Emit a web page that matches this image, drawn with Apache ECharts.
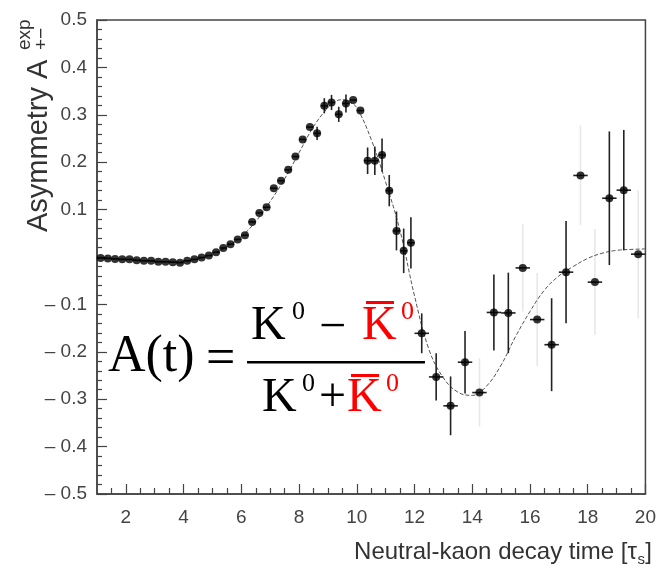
<!DOCTYPE html>
<html>
<head>
<meta charset="utf-8">
<script src="https://cdn.jsdelivr.net/npm/echarts@6/dist/echarts.min.js"></script>
<style>
  html, body { margin: 0; padding: 0; background: #fff; }
  #chart { width: 659px; height: 569px; }
</style>
</head>
<body>
<div id="chart"></div>
<script>
// Bin centres of the measured asymmetry, in units of tau_S
const binT = [
  1.125, 1.375, 1.625, 1.875, 2.125, 2.375, 2.625, 2.875, 3.125, 3.375, 3.625, 3.875,
  4.125, 4.375, 4.625, 4.875, 5.125, 5.375, 5.625, 5.875, 6.125, 6.375, 6.625, 6.875,
  7.125, 7.375, 7.625, 7.875, 8.125, 8.375, 8.625, 8.875, 9.125, 9.375, 9.625, 9.875,
  10.125, 10.375, 10.625, 10.875, 11.125, 11.375, 11.625, 11.875,
  12.25, 12.75, 13.25, 13.75, 14.25, 14.75, 15.25, 15.75, 16.25, 16.75, 17.25, 17.75,
  18.25, 18.75, 19.25, 19.75
];
// Measured asymmetry in each bin
const asym = [
  -0.002, -0.003, -0.004, -0.005, -0.005, -0.007, -0.008, -0.008, -0.010, -0.010, -0.011, -0.012,
  -0.008, -0.005, -0.001, 0.003, 0.010, 0.019, 0.027, 0.037, 0.046, 0.074, 0.093, 0.105,
  0.145, 0.161, 0.184, 0.212, 0.248, 0.274, 0.261, 0.319, 0.326, 0.301, 0.324, 0.331,
  0.309, 0.203, 0.203, 0.215, 0.140, 0.055, 0.013, 0.030,
  -0.161, -0.253, -0.314, -0.222, -0.286, -0.117, -0.118, -0.023, -0.132, -0.185, -0.032, 0.172,
  -0.053, 0.124, 0.141, 0.006
];
// Statistical error of each bin (0 = hidden by the marker)
const asymErr = [
  0, 0, 0, 0, 0, 0, 0, 0, 0, 0, 0, 0,
  0, 0, 0, 0, 0, 0, 0, 0, 0, 0, 0, 0,
  0, 0, 0, 0, 0, 0, 0.014, 0.016, 0.016, 0.016, 0.019, 0,
  0, 0.028, 0.030, 0.035, 0.033, 0.041, 0.047, 0.054,
  0.042, 0.050, 0.062, 0.066, 0.072, 0.080, 0.085, 0.092, 0.098, 0.098, 0.108, 0.105,
  0.112, 0.141, 0.127, 0.135
];
// Bins whose error bar is printed in light grey
const faintErrT = [14.25, 15.75, 16.25, 17.75, 18.25, 19.75];

// Fitted asymmetry curve
const fitT = [
  1.0, 1.5, 2.0, 2.5, 3.0, 3.5, 4.0, 4.5, 5.0, 5.5, 6.0, 6.5, 7.0, 7.5, 8.0, 8.5,
  9.0, 9.25, 9.5, 9.75, 10.0, 10.5, 11.0, 11.5, 12.0, 12.5, 13.0, 13.5, 14.0, 14.5,
  15.0, 15.5, 16.0, 16.5, 17.0, 17.5, 18.0, 18.5, 19.0, 19.5, 20.0
];
const fitV = [
  -0.002, -0.003, -0.005, -0.007, -0.009, -0.010, -0.009, -0.004, 0.006, 0.022, 0.043, 0.075,
  0.117, 0.165, 0.220, 0.275, 0.315, 0.328, 0.332, 0.327, 0.315, 0.248, 0.158, 0.055,
  -0.082, -0.195, -0.255, -0.285, -0.292, -0.272, -0.228, -0.168, -0.115, -0.070, -0.040,
  -0.020, -0.003, 0.008, 0.014, 0.016, 0.017
];

// Axis ticks
const xMajorTicks = [2, 4, 6, 8, 10, 12, 14, 16, 18, 20];
const xMinorTicks = [1.5, 2.5, 3, 3.5, 4.5, 5, 5.5, 6.5, 7, 7.5, 8.5, 9, 9.5, 10.5, 11, 11.5,
  12.5, 13, 13.5, 14.5, 15, 15.5, 16.5, 17, 17.5, 18.5, 19, 19.5];

const AXIS_COLOR = '#444';
const SANS = '"Liberation Sans", Arial, Helvetica, sans-serif';
const SERIF = '"Liberation Serif", "Times New Roman", serif';

const points = binT.map((t, i) => [t, asym[i]]);
const darkErr = binT.map((t, i) => [t, asym[i], faintErrT.includes(t) ? 0 : asymErr[i], t < 12 ? 0.125 : 0.25]);
const lightErr = binT.map((t, i) => [t, asym[i], faintErrT.includes(t) ? asymErr[i] : 0, 0]);
const fitLine = fitT.map((t, i) => [t, fitV[i]]);

function errorBars(color) {
  return function (params, api) {
    const t = api.value(0), v = api.value(1), e = api.value(2), hw = api.value(3);
    const children = [];
    if (e > 0) {
      const a = api.coord([t, v + e]), b = api.coord([t, v - e]);
      children.push({ type: 'line', shape: { x1: a[0], y1: a[1], x2: b[0], y2: b[1] },
        style: { stroke: color, lineWidth: 1.6 } });
    }
    if (hw > 0) {
      const a = api.coord([t - hw, v]), b = api.coord([t + hw, v]);
      children.push({ type: 'line', shape: { x1: a[0], y1: a[1], x2: b[0], y2: b[1] },
        style: { stroke: color, lineWidth: 1.6 } });
    }
    return { type: 'group', children };
  };
}

function txt(x, y, text, size, color, family, align) {
  return { type: 'text', x, y, z: 10,
    style: { text, fill: color, font: `${size}px ${family}`, align: align || 'left', verticalAlign: 'middle' } };
}
function bar(x1, x2, y, h, color) {
  return { type: 'rect', z: 10, shape: { x: x1, y, width: x2 - x1, height: h }, style: { fill: color } };
}

const chart = echarts.init(document.getElementById('chart'), null, { renderer: 'canvas' });

chart.setOption({
  animation: false,
  backgroundColor: '#fff',
  grid: { left: 97, right: 6, top: 20, bottom: 75, show: true, borderColor: AXIS_COLOR, borderWidth: 1.5, backgroundColor: 'transparent' },
  xAxis: [
    {
      type: 'value', min: 1, max: 20,
      axisLine: { show: true, onZero: false, lineStyle: { color: AXIS_COLOR, width: 1.5 } },
      axisTick: { show: true, inside: true, length: 10, customValues: xMajorTicks, lineStyle: { color: AXIS_COLOR, width: 1.2 } },
      axisLabel: { show: true, customValues: xMajorTicks, fontSize: 19, color: AXIS_COLOR, fontFamily: SANS, margin: 14 },
      splitLine: { show: false }
    },
    {
      type: 'value', min: 1, max: 20, position: 'bottom',
      axisLine: { show: false, onZero: false },
      axisTick: { show: true, inside: true, length: 6, customValues: xMinorTicks, lineStyle: { color: AXIS_COLOR, width: 1.2 } },
      axisLabel: { show: false },
      splitLine: { show: false }
    }
  ],
  yAxis: {
    type: 'value', min: -0.5, max: 0.5, interval: 0.1,
    axisLine: { show: true, onZero: false, lineStyle: { color: AXIS_COLOR, width: 1.5 } },
    axisTick: { show: true, inside: true, length: 10, lineStyle: { color: AXIS_COLOR, width: 1.2 } },
    minorTick: { show: true, splitNumber: 5, length: 5, lineStyle: { color: AXIS_COLOR, width: 1.2 } },
    splitLine: { show: false },
    axisLabel: {
      fontSize: 19, color: AXIS_COLOR, fontFamily: SANS, margin: 10,
      formatter: v => {
        const r = Math.round(v * 10) / 10;
        if (r === 0) return '';
        return r < 0 ? '\u2013 ' + Math.abs(r).toFixed(1) : r.toFixed(1);
      }
    }
  },
  series: [
    {
      type: 'line', data: fitLine, smooth: 0.4, showSymbol: false, symbol: 'none',
      lineStyle: { color: '#555', width: 1, type: [4, 2] }, z: 2, silent: true
    },
    { type: 'custom', data: lightErr, renderItem: errorBars('#e8e8e8'), z: 1, silent: true },
    { type: 'custom', data: darkErr, renderItem: errorBars('#222'), z: 3, silent: true },
    {
      type: 'scatter', data: points, symbol: 'circle', symbolSize: 8,
      itemStyle: { color: '#000' }, z: 4, silent: true
    }
  ],
  graphic: [
    // vertical axis title
    {
      type: 'group', x: 39, y: 232, rotation: Math.PI / 2,
      children: [
        { type: 'text', x: 0, y: 0, style: { text: 'Asymmetry A', fill: '#333', font: `29px ${SANS}`, align: 'left', verticalAlign: 'middle' } },
        { type: 'text', x: 182, y: -14, style: { text: 'exp', fill: '#333', font: `19px ${SANS}`, align: 'left', verticalAlign: 'middle' } },
        { type: 'text', x: 182, y: 3, style: { text: '+\u2212', fill: '#333', font: `19px ${SANS}`, align: 'left', verticalAlign: 'middle' } }
      ]
    },
    // horizontal axis title
    txt(637, 552, 'Neutral-kaon decay time [\u03c4', 24, '#333', SANS, 'right'),
    txt(645, 560, 's', 15, '#333', SANS, 'right'),
    txt(652, 552, ']', 24, '#333', SANS, 'right'),
    // formula A(t) = (K0 - K0bar) / (K0 + K0bar)
    txt(108, 357, 'A(t)', 52, '#000', SERIF),
    txt(206, 360, '=', 52, '#000', SERIF),
    txt(251, 326, 'K', 48, '#000', SERIF),
    txt(292, 312, '0', 26, '#000', SERIF),
    txt(319, 328, '\u2212', 48, '#000', SERIF),
    txt(362, 326, 'K', 48, '#ff0000', SERIF),
    bar(366, 394, 301, 3, '#ff0000'),
    txt(401, 312, '0', 26, '#ff0000', SERIF),
    bar(247, 425, 361, 2.5, '#000'),
    txt(262, 398, 'K', 48, '#000', SERIF),
    txt(302, 384, '0', 26, '#000', SERIF),
    txt(319, 398, '+', 48, '#000', SERIF),
    txt(347, 398, 'K', 48, '#ff0000', SERIF),
    bar(351, 379, 374, 3, '#ff0000'),
    txt(386, 384, '0', 26, '#ff0000', SERIF)
  ]
});
</script>
</body>
</html>
